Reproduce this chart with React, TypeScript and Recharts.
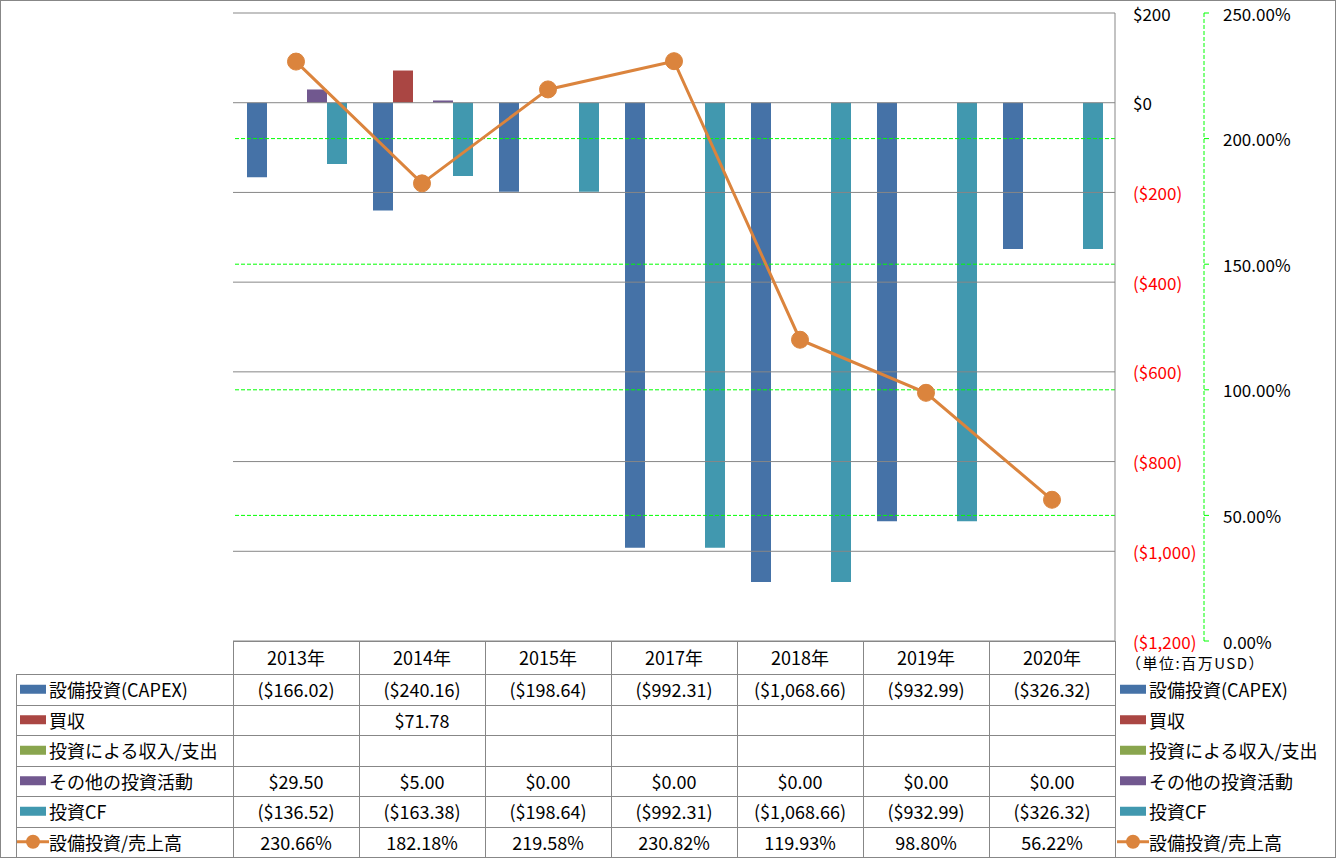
import React from 'react';
import { ComposedChart, Bar, Line, XAxis, YAxis, ReferenceLine } from 'recharts';

const years = ['2013年', '2014年', '2015年', '2017年', '2018年', '2019年', '2020年'];
const capex = [-166.02, -240.16, -198.64, -992.31, -1068.66, -932.99, -326.32];
const acquisition: (number | null)[] = [null, 71.78, null, null, null, null, null];
const investIncome: (number | null)[] = [null, null, null, null, null, null, null];
const otherInvest = [29.5, 5.0, 0, 0, 0, 0, 0];
const investCF = [-136.52, -163.38, -198.64, -992.31, -1068.66, -932.99, -326.32];
const capexRatio = [230.66, 182.18, 219.58, 230.82, 119.93, 98.8, 56.22];

const usdTicks = [-1200, -1000, -800, -600, -400, -200, 0, 200];
const pctTicks = [0, 50, 100, 150, 200, 250];

const seriesNames = ['設備投資(CAPEX)', '買収', '投資による収入/支出', 'その他の投資活動', '投資CF', '設備投資/売上高'];
const colors = ['#4572A7', '#AA4643', '#89A54E', '#71588F', '#4198AF', '#DB843D'];
const unitLabel = '（単位:百万USD）';

const data = years.map((y, i) => ({
  year: y,
  capex: capex[i],
  acq: acquisition[i],
  inc: investIncome[i],
  other: otherInvest[i],
  cf: investCF[i],
  ratio: capexRatio[i],
}));

const W = 1336;
const H = 858;
const PL = 233;
const PR = 1115;
const PT = 13;
const PB = 641;
const USD_AXIS_W = 89;
const PCT_AXIS_W = 100;
const FONT = "'Noto Sans CJK JP', 'Noto Sans', sans-serif";
const GRAY = '#878787';
const GREEN = '#00FF00';
const USD = 'a_usd';
const PCT = 'b_pct';

const fmtUsd = (v: number | null) => {
  if (v === null || v === undefined) return '';
  const s = '$' + Math.abs(v).toLocaleString('en-US', { minimumFractionDigits: 2, maximumFractionDigits: 2 });
  return v < 0 ? `(${s})` : s;
};
const fmtUsdTick = (v: number) => {
  const s = '$' + Math.abs(v).toLocaleString('en-US');
  return v < 0 ? `(${s})` : s;
};
const fmtPct = (v: number) => v.toFixed(2) + '%';

const UsdTick = (props: any) => {
  const { y, payload } = props;
  const v = payload.value;
  return (
    <text x={PR + 18} y={y} dominantBaseline="central" textAnchor="start" fontSize={17} fontFamily={FONT} fill={v < 0 ? '#FF0000' : '#000'}>
      {fmtUsdTick(v)}
    </text>
  );
};

const PctTick = (props: any) => {
  const { y, payload } = props;
  const ax = PR + USD_AXIS_W;
  return (
    <g>
      <line x1={ax} x2={ax + 5} y1={y} y2={y} stroke={GREEN} />
      <text x={ax + 19} y={y} dominantBaseline="central" textAnchor="start" fontSize={17} fontFamily={FONT} fill="#000">
        {fmtPct(payload.value)}
      </text>
    </g>
  );
};

const rows: string[][] = [
  capex.map(fmtUsd),
  acquisition.map(fmtUsd),
  investIncome.map(fmtUsd),
  otherInvest.map(fmtUsd),
  investCF.map(fmtUsd),
  capexRatio.map(fmtPct),
];

const Table = () => {
  const colW = (PR - PL) / years.length;
  const headTop = PB;
  const headBot = 674;
  const rowH = (H - 1 - headBot) / rows.length;
  const tableLeft = 16;
  const els: React.ReactNode[] = [];
  els.push(<line key="ht" x1={PL} x2={PR} y1={headTop + 0.5} y2={headTop + 0.5} stroke={GRAY} />);
  for (let r = 0; r <= rows.length; r++) {
    const y = Math.round(headBot + r * rowH) + 0.5;
    els.push(<line key={'h' + r} x1={tableLeft} x2={PR} y1={y} y2={y} stroke={GRAY} />);
  }
  els.push(<line key="vl" x1={tableLeft + 0.5} x2={tableLeft + 0.5} y1={headBot} y2={H} stroke={GRAY} />);
  for (let c = 0; c <= years.length; c++) {
    const x = Math.round(PL + c * colW) + 0.5;
    els.push(<line key={'v' + c} x1={x} x2={x} y1={headTop} y2={H} stroke={GRAY} />);
  }
  years.forEach((yr, c) => {
    els.push(
      <text key={'yr' + c} x={PL + (c + 0.5) * colW} y={(headTop + headBot) / 2 - 1} textAnchor="middle" dominantBaseline="central" fontSize={18} fontFamily={FONT} fill="#000">
        {yr}
      </text>
    );
  });
  rows.forEach((vals, r) => {
    const cy = headBot + (r + 0.5) * rowH;
    vals.forEach((v, c) => {
      if (!v) return;
      els.push(
        <text key={`c${r}-${c}`} x={PL + (c + 0.5) * colW} y={cy} textAnchor="middle" dominantBaseline="central" fontSize={18} fontFamily={FONT} fill="#000">
          {v}
        </text>
      );
    });
    [20, 1120].forEach((kx, k) => {
      if (r < 5) {
        els.push(<rect key={`k${r}-${k}`} x={kx} y={cy - 4.5} width={26} height={9} fill={colors[r]} />);
      } else {
        els.push(<line key={`kl${r}-${k}`} x1={kx - 3} x2={kx + 29} y1={cy} y2={cy} stroke={colors[r]} strokeWidth={3} />);
        els.push(<circle key={`kc${r}-${k}`} cx={kx + 13} cy={cy} r={7} fill={colors[r]} />);
      }
      els.push(
        <text key={`t${r}-${k}`} x={kx + 29} y={cy} textAnchor="start" dominantBaseline="central" fontSize={18} fontFamily={FONT} fill="#000">
          {seriesNames[r]}
        </text>
      );
    });
  });
  els.push(
    <text key="unit" x={1126} y={662} textAnchor="start" dominantBaseline="central" fontSize={15} letterSpacing={1.5} fontFamily={FONT} fill="#000">
      {unitLabel}
    </text>
  );
  els.push(<rect key="border" x={0.5} y={0.5} width={W - 1} height={H - 1} fill="none" stroke={GRAY} />);
  return (
    <svg width={W} height={H} style={{ position: 'absolute', left: 0, top: 0, pointerEvents: 'none' }}>
      {els}
    </svg>
  );
};

export default function App() {
  return (
    <div style={{ position: 'absolute', left: 0, top: 0, width: W, height: H, background: '#fff' }}>
      <ComposedChart
        width={W}
        height={H}
        data={data}
        margin={{ top: PT, left: PL, bottom: H - PB, right: W - PR - USD_AXIS_W - PCT_AXIS_W }}
        barGap={0}
        barCategoryGap={14}
      >
        <XAxis dataKey="year" hide />
        <YAxis
          yAxisId={USD}
          orientation="right"
          width={USD_AXIS_W}
          domain={[-1200, 200]}
          ticks={usdTicks}
          interval={0}
          axisLine={{ stroke: GRAY }}
          tickLine={false}
          tick={<UsdTick />}
        />
        <YAxis
          yAxisId={PCT}
          orientation="right"
          width={PCT_AXIS_W}
          domain={[0, 250]}
          ticks={pctTicks}
          interval={0}
          axisLine={{ stroke: GREEN, strokeDasharray: '4 2' }}
          tickLine={false}
          tick={<PctTick />}
        />
        {pctTicks.filter((t) => t > 0 && t < 250).map((t) => (
          <ReferenceLine key={'p' + t} yAxisId={PCT} y={t} stroke={GREEN} strokeDasharray="4 2" />
        ))}
        {usdTicks.map((t) => (
          <ReferenceLine key={'u' + t} yAxisId={USD} y={t} stroke={GRAY} />
        ))}
        <Bar yAxisId={USD} dataKey="capex" name={seriesNames[0]} fill={colors[0]} isAnimationActive={false} />
        <Bar yAxisId={USD} dataKey="acq" name={seriesNames[1]} fill={colors[1]} isAnimationActive={false} />
        <Bar yAxisId={USD} dataKey="inc" name={seriesNames[2]} fill={colors[2]} isAnimationActive={false} />
        <Bar yAxisId={USD} dataKey="other" name={seriesNames[3]} fill={colors[3]} isAnimationActive={false} />
        <Bar yAxisId={USD} dataKey="cf" name={seriesNames[4]} fill={colors[4]} isAnimationActive={false} />
        <Line
          yAxisId={PCT}
          dataKey="ratio"
          name={seriesNames[5]}
          stroke={colors[5]}
          strokeWidth={3}
          dot={{ r: 8.5, fill: colors[5], stroke: colors[5], strokeWidth: 1 }}
          isAnimationActive={false}
        />
      </ComposedChart>
      <Table />
    </div>
  );
}
